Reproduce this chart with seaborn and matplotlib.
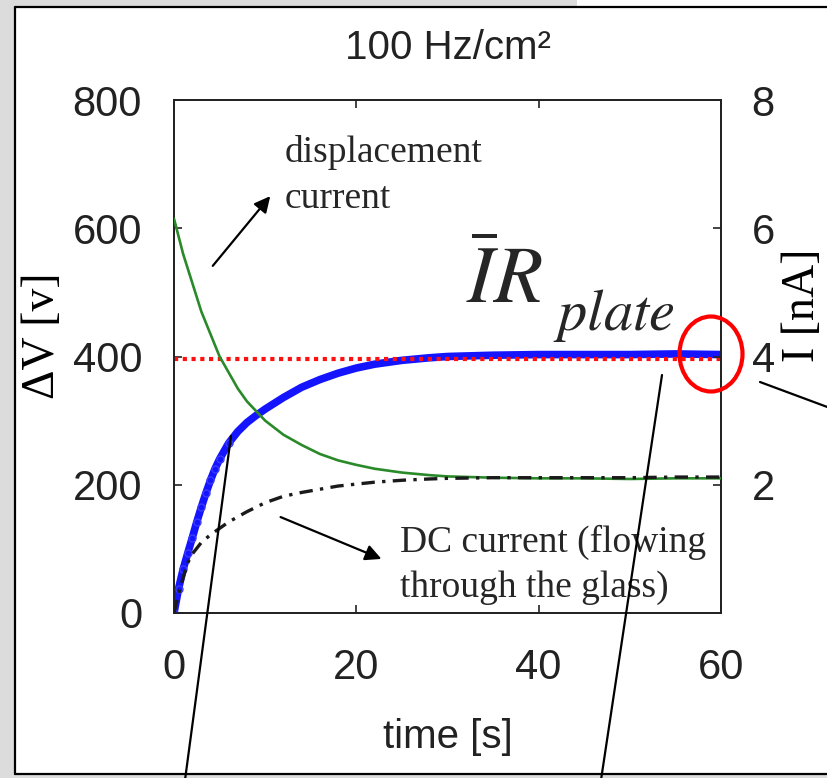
import matplotlib
matplotlib.use("Agg")
import matplotlib.pyplot as plt
import seaborn as sns
import numpy as np
import pandas as pd
from matplotlib.patches import Rectangle, Ellipse
from matplotlib.lines import Line2D

# ---------------- data ----------------
# Voltage difference (left axis, V)
dv_time = [0, 0.5, 1, 1.5, 2, 2.5, 3, 3.5, 4, 4.5, 5, 6, 7, 8, 9, 10, 12, 14, 16, 18,
           20, 22, 25, 28, 30, 35, 40, 45, 50, 55, 60]
dv_volt = [0, 38, 68, 93, 117, 142, 165, 187, 207, 225, 240, 265, 283, 297, 308, 318,
           336, 352, 364, 374, 382, 388, 394, 398, 400, 402, 403, 403, 403, 404, 403]

# Reference level I*R_plate (left axis, V)
ref_time = [0, 60]
ref_volt = [396, 396]

# Displacement current (right axis, nA)
disp_time = [0, 1, 2, 3, 4, 5, 6, 7, 8, 9, 10, 12, 14, 16, 18, 20, 22, 25, 28, 30,
             35, 40, 45, 50, 55, 60]
disp_na = [6.15, 5.6, 5.15, 4.7, 4.35, 4.0, 3.75, 3.5, 3.3, 3.15, 3.0, 2.78, 2.62,
           2.48, 2.38, 2.31, 2.25, 2.19, 2.15, 2.13, 2.11, 2.10, 2.10, 2.09, 2.10, 2.10]

# DC current through glass (right axis, nA)
dc_time = [0, 0.5, 1, 1.5, 2, 3, 4, 5, 6, 8, 10, 12, 14, 16, 18, 20, 22, 25, 28, 30,
           35, 40, 45, 50, 55, 60]
dc_na = [0, 0.3, 0.55, 0.78, 0.92, 1.1, 1.22, 1.32, 1.42, 1.58, 1.72, 1.82, 1.88,
         1.93, 1.98, 2.01, 2.04, 2.07, 2.09, 2.10, 2.11, 2.11, 2.11, 2.11, 2.12, 2.12]

x_ticks = [0, 20, 40, 60]
left_ticks = [0, 200, 400, 600, 800]
right_ticks = [2, 4, 6, 8]

title_text = "100 Hz/cm²"
xlabel_text = "time [s]"
ylabel_left = "ΔV [v]"
ylabel_right = "I [nA]"
note_disp = ["displacement", "current"]
note_dc = ["DC current (flowing", "through the glass)"]
formula_main = r"$\bar{I}R$"
formula_sub = r"$plate$"

# ---------------- style ----------------
sns.set_style("ticks")
plt.rcParams["font.family"] = ["Liberation Sans", "DejaVu Sans"]
plt.rcParams["mathtext.fontset"] = "stix"

W, H = 827, 778
fig = plt.figure(figsize=(W / 100, H / 100), dpi=100)
fig.patch.set_facecolor("white")


def fx(x):
    return x / W


def fy(y):
    return 1 - y / H


# background framing (gray margins and black frame)
gray = "#dcdcdc"
fig.add_artist(Rectangle((0, 0), fx(15), 1, transform=fig.transFigure, fc=gray, ec="none", zorder=-5))
fig.add_artist(Rectangle((0, fy(7)), fx(577), 1 - fy(7), transform=fig.transFigure, fc=gray, ec="none", zorder=-5))
fig.add_artist(Rectangle((0, 0), 1, fy(774), transform=fig.transFigure, fc=gray, ec="none", zorder=-5))
for (x0, y0, x1, y1) in [(15, 7, 15, 774), (15, 7, 827, 7), (15, 774, 827, 774)]:
    fig.add_artist(Line2D([fx(x0), fx(x1)], [fy(y0), fy(y1)], transform=fig.transFigure,
                          color="black", lw=1.6, zorder=-4))

ax = fig.add_axes([fx(174), fy(613), fx(721) - fx(174), fy(100) - fy(613)])
ax.set_facecolor("white")

df_dv = pd.DataFrame({"t": dv_time, "v": dv_volt})
df_ref = pd.DataFrame({"t": ref_time, "v": ref_volt})
sns.lineplot(data=df_dv, x="t", y="v", ax=ax, color="#1414ff", lw=5.5, zorder=3)
sns.lineplot(data=df_dv[df_dv.t <= 6], x="t", y="v", ax=ax, color="#3030ff", lw=0,
             marker="o", markersize=5, markerfacecolor="none", markeredgecolor="#3a3aff",
             markeredgewidth=1.0, zorder=3)
sns.lineplot(data=df_ref, x="t", y="v", ax=ax, color="#ff1010", lw=3.0,
             linestyle=(0, (1.0, 1.1)), zorder=4)

ax.set_xlim(0, 60)
ax.set_ylim(0, 800)
ax.set_xticks(x_ticks)
ax.set_yticks(left_ticks)
ax.set_xlabel("")
ax.set_ylabel("")

ax2 = ax.twinx()
df_disp = pd.DataFrame({"t": disp_time, "i": disp_na})
df_dc = pd.DataFrame({"t": dc_time, "i": dc_na})
sns.lineplot(data=df_disp, x="t", y="i", ax=ax2, color="#2a8a2a", lw=1.9, zorder=3)
sns.lineplot(data=df_dc, x="t", y="i", ax=ax2, color="#1a1a1a", lw=2.4,
             linestyle=(0, (4, 2.2, 1, 2.2)), zorder=4)
ax2.set_ylim(0, 8)
ax2.set_yticks(right_ticks)
ax2.set_ylabel("")
ax2.set_xlabel("")

for a in (ax, ax2):
    for s in a.spines.values():
        s.set_visible(True)
        s.set_linewidth(1.3)
        s.set_color("#222222")

ax.tick_params(axis="both", direction="in", length=6, width=1.2, labelsize=30,
               colors="#222222", labelcolor="#222222", top=True, right=False)
ax.tick_params(axis="y", pad=23)
ax.tick_params(axis="x", pad=25)
ax2.tick_params(axis="y", direction="in", length=6, width=1.2, labelsize=30,
                colors="#222222", labelcolor="#222222", pad=22)

# titles and axis labels
fig.text(fx(448), fy(48), title_text, ha="center", va="center", fontsize=29, color="#222222")
fig.text(fx(448), fy(737), xlabel_text, ha="center", va="center", fontsize=29, color="#222222")
serif = ["Liberation Serif", "DejaVu Serif"]
fig.text(fx(43), fy(336), ylabel_left, ha="center", va="center", rotation=90,
         fontsize=33, family=serif, color="black")
fig.text(fx(803), fy(305), ylabel_right, ha="center", va="center", rotation=90,
         fontsize=33, family=serif, color="black")

# annotations
for txt, yb in zip(note_disp, [162, 208]):
    fig.text(fx(285), fy(yb), txt, ha="left", va="baseline", fontsize=27, family=serif)
for txt, yb in zip(note_dc, [552, 597]):
    fig.text(fx(400), fy(yb), txt, ha="left", va="baseline", fontsize=27, family=serif)

fig.text(fx(466), fy(303), formula_main, ha="left", va="baseline", fontsize=58)
fig.text(fx(553), fy(330), formula_sub, ha="left", va="baseline", fontsize=42)

ax.annotate("", xy=(fx(272), fy(194)), xytext=(fx(211), fy(268)),
            xycoords="figure fraction", textcoords="figure fraction",
            arrowprops=dict(arrowstyle="-|>", color="black", lw=1.6, mutation_scale=24))
ax.annotate("", xy=(fx(384), fy(560)), xytext=(fx(278), fy(516)),
            xycoords="figure fraction", textcoords="figure fraction",
            arrowprops=dict(arrowstyle="-|>", color="black", lw=1.6, mutation_scale=24))

fig.add_artist(Ellipse((fx(711), fy(354)), 63 / W, 75 / H, transform=fig.transFigure,
                       fill=False, ec="#ff0000", lw=3.0, zorder=10))

for (x0, y0, x1, y1) in [(231, 436, 185, 780), (662, 375, 601, 780), (760, 382, 830, 408)]:
    fig.add_artist(Line2D([fx(x0), fx(x1)], [fy(y0), fy(y1)], transform=fig.transFigure,
                          color="black", lw=1.6, zorder=11))

fig.savefig("out.png", dpi=100)
